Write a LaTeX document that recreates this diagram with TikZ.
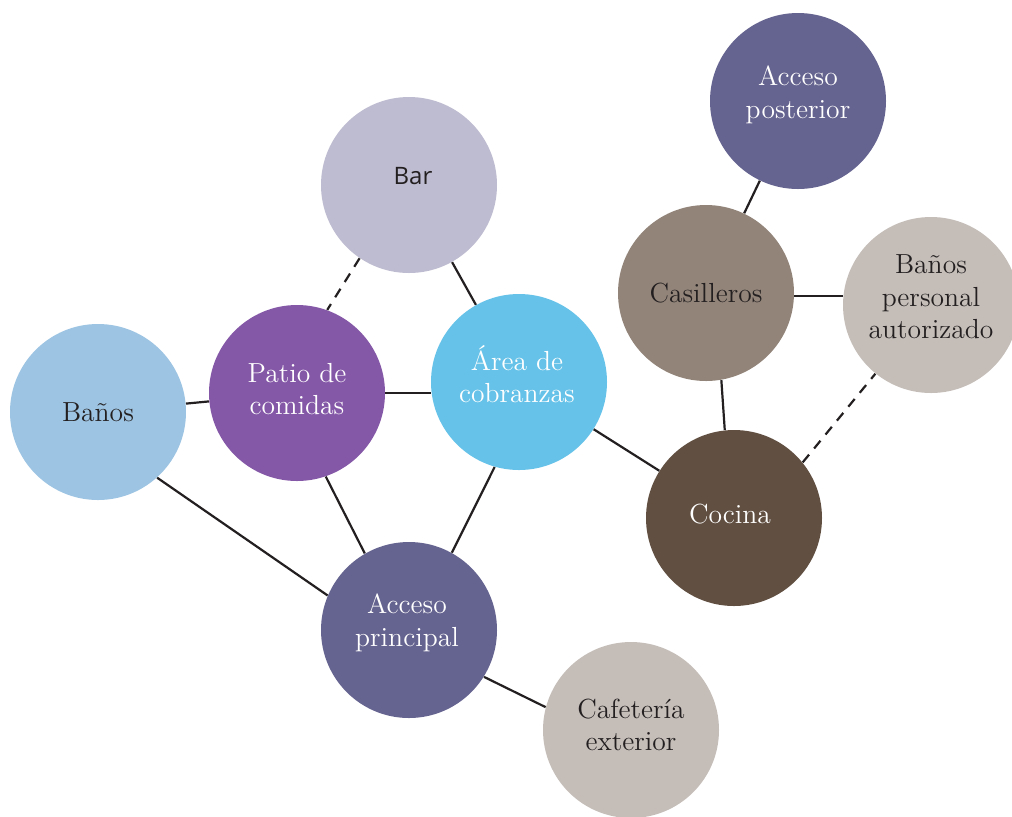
\documentclass[tikz,border=0pt]{standalone}
\usepackage{fontspec}
\newfontfamily\barfont{Open Sans}
\definecolor{cPost}{HTML}{65638F}
\definecolor{cBar}{HTML}{BEBCD0}
\definecolor{cCas}{HTML}{928479}
\definecolor{cGris}{HTML}{C4BDB8}
\definecolor{cBan}{HTML}{9DC4E2}
\definecolor{cPat}{HTML}{8457A7}
\definecolor{cArea}{HTML}{66C2E8}
\definecolor{cCoc}{HTML}{614F41}
\definecolor{cTxt}{HTML}{231F20}
\begin{document}
\begin{tikzpicture}[x=0.5pt,y=-0.5pt,
  room/.style={circle,inner sep=0pt,minimum size=88pt},
  lbl/.style={align=center,inner sep=0pt,font=\fontsize{13.8}{16.3}\selectfont},
  lt/.style={lbl,text=white},
  dk/.style={lbl,text=cTxt},
  link/.style={draw=cTxt,line width=1.1pt},
  dlink/.style={link,dash pattern=on 5pt off 4pt}]
\useasboundingbox (0,0) rectangle (1012,816);
\begin{scope}
\clip (0,0) rectangle (1012,816);
\node[room,fill=cPost] (post) at (798,101) {};
\node[room,fill=cBar] (bar) at (409,185) {};
\node[room,fill=cCas] (cas) at (706,293) {};
\node[room,fill=cGris] (bper) at (931,305) {};
\node[room,fill=cBan] (ban) at (98,412) {};
\node[room,fill=cPat] (pat) at (297,393) {};
\node[room,fill=cArea] (area) at (519,382) {};
\node[room,fill=cCoc] (coc) at (734,518) {};
\node[room,fill=cPost] (prin) at (409,630) {};
\node[room,fill=cGris] (caf) at (631,730) {};
\end{scope}
\node[lt] (postT) at (798,95) {Acceso\\posterior};
\node[dk,font=\barfont\fontsize{12}{14}\selectfont] (barT) at (413,176) {Bar};
\node[dk] (casT) at (706,293) {Casilleros};
\node[dk] (bperT) at (931,297) {Baños\\personal\\autorizado};
\node[dk] (banT) at (98,412) {Baños};
\node[lt] (patT) at (297,389) {Patio de\\comidas};
\node[lt] (areaT) at (517,374) {Área de\\cobranzas};
\node[lt] (cocT) at (730,514) {Cocina};
\node[lt] (prinT) at (407,623) {Acceso\\principal};
\node[dk] (cafT) at (631,725) {Cafetería\\exterior};
\draw[dlink] (bar.236) -- (pat.70);
\draw[link] (bar) -- (area);
\draw[link] (ban) -- (pat);
\draw[link] (ban.-48) -- (prin.157);
\draw[link] (pat.east |- 0,393) -- (area.west |- 0,393);
\draw[link] (pat.-71) -- (prin.120);
\draw[link] (area.-106) -- (prin.61);
\draw[link] (area) -- (coc);
\draw[link] (cas.-80) -- (coc.96);
\draw[link] (cas) -- (post);
\draw[link] (cas.-2) -- (cas.-2 -| bper.west);
\draw[dlink] (coc.39) -- (bper.231);
\draw[link] (prin.-32) -- (caf.165);
\end{tikzpicture}
\end{document}
